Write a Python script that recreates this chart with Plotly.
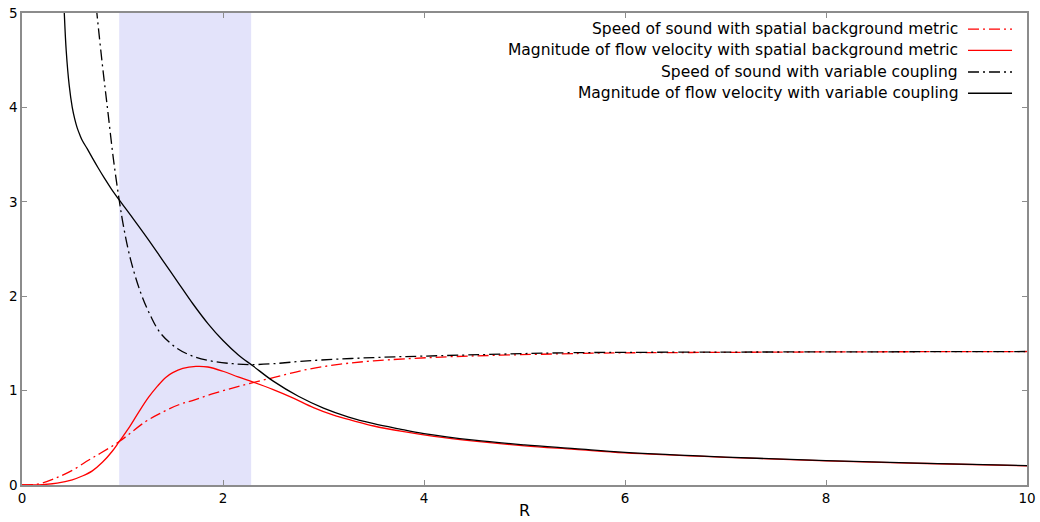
import plotly.graph_objects as go

# ---------------- data ----------------
# Speed of sound with spatial background metric (red dash-dot)
sp_sound_x = [0.0, 0.1, 0.2, 0.33, 0.5, 0.665, 0.78, 0.967, 1.227, 1.377, 1.56, 1.71, 1.91, 2.175,
              2.51, 2.84, 3.17, 3.5, 4.17, 5.37, 6.0, 7.0, 8.0, 9.0, 10.0]
sp_sound_y = [0.0, 0.003, 0.02, 0.07, 0.155, 0.265, 0.336, 0.46, 0.67, 0.76, 0.85, 0.90, 0.97, 1.05,
              1.14, 1.225, 1.28, 1.315, 1.355, 1.39, 1.40, 1.405, 1.41, 1.412, 1.414]

# Magnitude of flow velocity with spatial background metric (red solid)
sp_flow_x = [0.0, 0.2, 0.35, 0.5, 0.6, 0.7, 0.8, 0.9, 0.967, 1.06, 1.16, 1.26, 1.35, 1.43, 1.5, 1.6,
             1.73, 1.85, 2.0, 2.15, 2.3, 2.5, 2.7, 2.9, 3.1, 3.3, 3.5, 3.8, 4.1, 4.5, 5.0, 5.5,
             6.0, 7.0, 8.0, 9.0, 10.0]
sp_flow_y = [0.0, 0.004, 0.02, 0.055, 0.095, 0.15, 0.24, 0.36, 0.46, 0.60, 0.77, 0.93, 1.05, 1.14, 1.19, 1.235,
             1.256, 1.25, 1.205, 1.145, 1.09, 1.01, 0.92, 0.82, 0.74, 0.68, 0.625, 0.565, 0.515, 0.465, 0.415, 0.378,
             0.34, 0.293, 0.256, 0.228, 0.203]

# Speed of sound with variable coupling (black dash-dot)
vc_sound_x = [0.70, 0.745, 0.80, 0.855, 0.91, 0.967, 1.01, 1.08, 1.18, 1.28, 1.377, 1.54, 1.71, 1.9,
              2.1, 2.27, 2.5, 2.84, 3.5, 4.17, 5.37, 6.0, 7.0, 8.0, 9.0, 10.0]
vc_sound_y = [5.5, 5.0, 4.45, 3.95, 3.45, 3.02, 2.74, 2.39, 2.04, 1.79, 1.61, 1.45, 1.36, 1.31,
              1.285, 1.275, 1.285, 1.315, 1.35, 1.37, 1.40, 1.405, 1.408, 1.41, 1.412, 1.414]

# Magnitude of flow velocity with variable coupling (black solid)
vc_flow_x = [0.41, 0.42, 0.44, 0.47, 0.50, 0.525, 0.55, 0.575, 0.60, 0.65, 0.70, 0.76, 0.82, 0.89, 0.967,
             1.1, 1.25, 1.4, 1.55, 1.7, 1.85, 2.0, 2.15, 2.3, 2.5, 2.75, 3.0, 3.25, 3.5, 3.75,
             4.0, 4.5, 5.0, 5.5, 6.0, 7.0, 8.0, 9.0, 10.0]
vc_flow_y = [5.3, 5.02, 4.6, 4.23, 4.0, 3.875, 3.78, 3.71, 3.65, 3.56, 3.465, 3.355, 3.25, 3.135, 3.02,
             2.83, 2.61, 2.38, 2.15, 1.92, 1.71, 1.53, 1.38, 1.26, 1.10, 0.94, 0.815, 0.72, 0.65, 0.595,
             0.545, 0.475, 0.425, 0.385, 0.345, 0.295, 0.258, 0.23, 0.205]

shade_range = [0.967, 2.28]

series_names = [
    "Speed of sound with spatial background metric",
    "Magnitude of flow velocity with spatial background metric",
    "Speed of sound with variable coupling",
    "Magnitude of flow velocity with variable coupling",
]

x_ticks = [0, 2, 4, 6, 8, 10]
y_ticks = [0, 1, 2, 3, 4, 5]
x_title = "R"

# ---------------- figure ----------------
RED = "#ff0000"
BLACK = "#000000"
DASHDOT = "11px,4px,2px,4px"
FONT = "DejaVu Sans"
AXCOL = "#8c8c8c"

series = [
    (sp_sound_x, sp_sound_y, RED, DASHDOT),
    (sp_flow_x, sp_flow_y, RED, "solid"),
    (vc_sound_x, vc_sound_y, BLACK, DASHDOT),
    (vc_flow_x, vc_flow_y, BLACK, "solid"),
]

fig = go.Figure()
for (xs, ys, col, dash), name in zip(series, series_names):
    fig.add_trace(go.Scatter(x=xs, y=ys, mode="lines", name=name,
                             line=dict(color=col, width=1.3, dash=dash, shape="spline", smoothing=1.0),
                             showlegend=False))

fig.add_shape(type="rect", xref="x", yref="paper", x0=shade_range[0], x1=shade_range[1],
              y0=0, y1=1, fillcolor="#e3e3fa", line=dict(width=0), layer="below")

# legend (text right-aligned, sample line to the right)
leg_y = [0.966, 0.921, 0.875, 0.830]
for (xs, ys, col, dash), name, yy in zip(series, series_names, leg_y):
    fig.add_annotation(x=0.9333, y=yy, xref="paper", yref="paper", text=name, showarrow=False,
                       xanchor="right", yanchor="middle", font=dict(family=FONT, size=15.5, color="#000"))
    fig.add_shape(type="line", xref="paper", yref="paper", x0=0.9413, x1=0.9851, y0=yy, y1=yy,
                  line=dict(color=col, width=1.3, dash=dash))

fig.add_annotation(x=0.5, y=0, xref="paper", yref="paper", text=x_title, showarrow=False,
                   xanchor="center", yanchor="middle", yshift=-25,
                   font=dict(family=FONT, size=16, color="#000"))

axis_common = dict(showgrid=False, zeroline=False, showline=True, linecolor=AXCOL, linewidth=1.5,
                   mirror="ticks", ticks="inside", ticklen=5, tickcolor=AXCOL, tickwidth=1,
                   automargin=False,
                   tickfont=dict(family=FONT, size=13.5, color="#000"))

fig.update_xaxes(range=[0, 10], tickvals=x_ticks, ticktext=[str(v) for v in x_ticks], **axis_common)
fig.update_yaxes(range=[0, 5], tickvals=y_ticks, ticktext=[str(v) for v in y_ticks], **axis_common)

fig.update_layout(width=1040, height=522, margin=dict(l=22, r=13, t=13, b=37),
                  plot_bgcolor="white", paper_bgcolor="white", showlegend=False)

fig.write_html("out.html")
